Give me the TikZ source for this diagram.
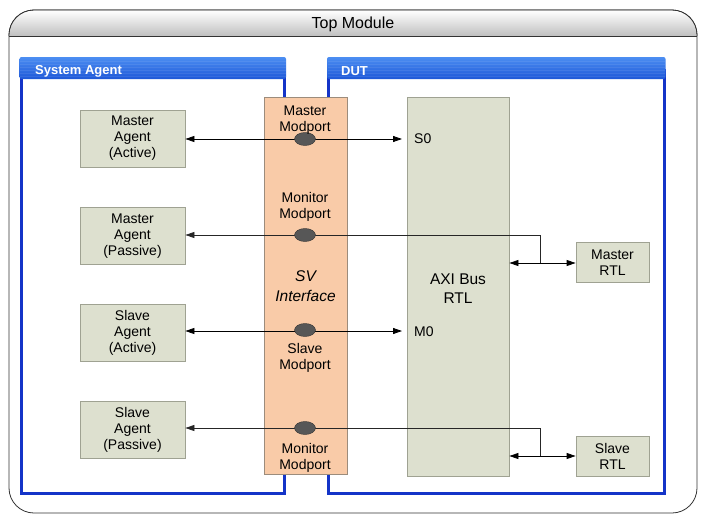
\documentclass[tikz,border=0pt]{standalone}
\usepackage{fontspec}
\setmainfont{Liberation Sans}
\usetikzlibrary{arrows.meta,shapes.geometric}
\definecolor{agentfill}{HTML}{DDE0CF}
\definecolor{agentdraw}{HTML}{9FA292}
\definecolor{svfill}{HTML}{F9CBA8}
\definecolor{svdraw}{HTML}{9C8C7C}
\definecolor{blueline}{HTML}{1434C8}
\definecolor{bluetop}{HTML}{4C8EF2}
\definecolor{bluebot}{HTML}{1E58D8}
\definecolor{portfill}{HTML}{575757}
\tikzset{
  agentbox/.style={draw=agentdraw,fill=agentfill,line width=0.8pt,minimum width=105,minimum height=57,align=center,inner sep=0pt},
  rtlbox/.style={draw=agentdraw,fill=agentfill,line width=0.8pt,minimum width=73,minimum height=40,align=center,inner sep=0pt},
  portdot/.style={ellipse,draw=black!80,fill=portfill,minimum width=21,minimum height=13,inner sep=0pt},
  sysbox/.style={draw=blueline,fill=white,line width=3pt},
  hdrtext/.style={text=white,font=\fontsize{13}{15}\selectfont\bfseries,anchor=west,inner sep=0pt},
  lbl/.style={align=center,inner sep=0pt},
  tipA/.style={-{Triangle[length=9,width=6]}},
  tipB/.style={{Triangle[length=9,width=6]}-{Triangle[length=9,width=6]}},
}
\begin{document}
\begin{tikzpicture}[x=1pt,y=-1pt,font=\fontsize{14}{16}\selectfont]
\useasboundingbox (0,0) rectangle (706,522);
% outer module
\draw[black!80,line width=0.8pt,fill=white,rounded corners=25] (9,10) rectangle (697,513);
\shade[top color=white,bottom color=black!25] (9.4,36) -- (9.4,35) {[rounded corners=24.6] -- (9.4,10.4) -- (696.6,10.4)} -- (696.6,36) -- cycle;
\draw[black!80,line width=0.8pt,rounded corners=25] (9,36) -- (9,10) -- (697,10) -- (697,36);
\draw[black!80,line width=0.8pt] (9,36) -- (697,36);
\node[lbl,font=\fontsize{16}{18}\selectfont] (title) at (353,24) {Top Module};
% system agent
\draw[sysbox] (21,70) rectangle (284.5,493);
\shade[top color=bluetop,bottom color=bluebot,rounded corners=2] (19.5,57) rectangle (286,79);
\foreach \yy in {61,64,67,70,73,76} \draw[white,opacity=0.08,line width=0.8pt] (20,\yy) -- (285.5,\yy);
\node[hdrtext] (sahdr) at (35,71) {System Agent};
% DUT
\draw[sysbox] (328.5,70) rectangle (664,493);
\shade[top color=bluetop,bottom color=bluebot,rounded corners=2] (327,57) rectangle (665.5,79);
\foreach \yy in {61,64,67,70,73,76} \draw[white,opacity=0.08,line width=0.8pt] (327.5,\yy) -- (665,\yy);
\node[hdrtext] (duthdr) at (341,71) {DUT};
% SV interface and AXI bus
\node[draw=svdraw,fill=svfill,line width=0.8pt,minimum width=83,minimum height=377,inner sep=0pt] (sv) at (305.5,285.5) {};
\node[draw=agentdraw,fill=agentfill,line width=0.8pt,minimum width=102,minimum height=379,inner sep=0pt] (axi) at (458,286.5) {};
\node[lbl,font=\fontsize{15.5}{19}\selectfont] (axit) at (458,289) {AXI Bus\\RTL};
\node[lbl,font=\fontsize{15.5}{20}\selectfont\itshape] (svt) at (305.5,286.5) {SV\\Interface};
% agents
\node[agentbox] (ma) at (132.5,138.5) {Master\\Agent\\(Active)};
\node[agentbox] (mp) at (132.5,236) {Master\\Agent\\(Passive)};
\node[agentbox] (sa) at (132.5,332.5) {Slave\\Agent\\(Active)};
\node[agentbox] (sp) at (132.5,429.5) {Slave\\Agent\\(Passive)};
\node[rtlbox] (mrtl) at (612.5,262.5) {Master\\RTL};
\node[rtlbox] (srtl) at (612.5,456) {Slave\\RTL};
% port labels
\node[lbl,anchor=west] (s0) at (414,139) {S0};
\node[lbl,anchor=west] (m0) at (414,331.5) {M0};
\coordinate (s0end) at (402,139);
\coordinate (m0end) at (402,331);
\coordinate (j1) at (540,235);
\coordinate (j1b) at (540,263);
\coordinate (j2) at (540,428);
\coordinate (j2b) at (540,456);
% connectors
\draw[tipB,line width=0.8pt] (ma.east |- s0end) -- (s0end);
\draw[tipB,line width=0.8pt] (sa.east |- m0end) -- (m0end);
\draw[tipA,black!85,line width=0.8pt] (j1) -- (mp.east |- j1);
\draw[black!85,line width=0.8pt] (j1) -- (j1b);
\draw[tipB,line width=0.8pt] (axi.east |- j1b) -- (mrtl.west |- j1b);
\draw[tipA,black!85,line width=0.8pt] (j2) -- (sp.east |- j2);
\draw[black!85,line width=0.8pt] (j2) -- (j2b);
\draw[tipB,line width=0.8pt] (axi.east |- j2b) -- (srtl.west |- j2b);
% modports
\node[portdot] (p1) at (305,139) {};
\node[portdot] (p2) at (305,235) {};
\node[portdot] (p3) at (305,330) {};
\node[portdot] (p4) at (305,428) {};
\node[lbl] (p1t) at (305,120.5) {Master\\Modport};
\node[lbl] (p2t) at (305,207) {Monitor\\Modport};
\node[lbl] (p3t) at (305,358) {Slave\\Modport};
\node[lbl] (p4t) at (305,458) {Monitor\\Modport};
\end{tikzpicture}
\end{document}
